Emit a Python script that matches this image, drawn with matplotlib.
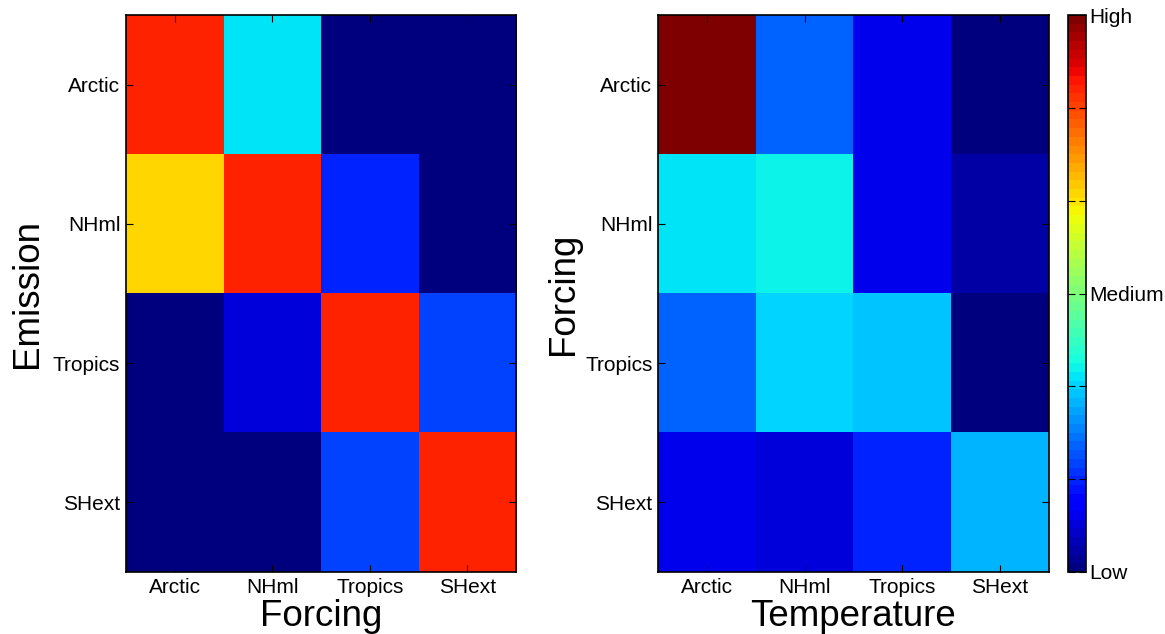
import numpy as np
import matplotlib
matplotlib.use('Agg')
import matplotlib.pyplot as plt

plt.rcParams['font.family'] = ['Liberation Sans', 'DejaVu Sans']

regions = ['Arctic', 'NHml', 'Tropics', 'SHext']

# Emission (rows) -> Forcing (columns)
emission_forcing = [
    [0.87, 0.35, 0.00, 0.00],
    [0.68, 0.87, 0.17, 0.00],
    [0.00, 0.08, 0.87, 0.19],
    [0.00, 0.00, 0.19, 0.86],
]

# Forcing (rows) -> Temperature (columns)
forcing_temperature = [
    [1.00, 0.22, 0.10, 0.01],
    [0.35, 0.37, 0.105, 0.04],
    [0.22, 0.335, 0.315, 0.01],
    [0.095, 0.08, 0.16, 0.30],
]

cbar_ticks = [0, 1/6, 2/6, 3/6, 4/6, 5/6, 1]
cbar_labels = ['Low', '', '', 'Medium', '', '', 'High']

cmap = plt.get_cmap('jet', 64)

fig = plt.figure(figsize=(11.65, 6.34), dpi=100)
ax1 = fig.add_axes([0.108, 0.0978, 0.335, 0.8785])
ax2 = fig.add_axes([0.5648, 0.0978, 0.3356, 0.8785])
cax = fig.add_axes([0.9167, 0.0978, 0.0155, 0.8785])


def heat(ax, data, xlabel, ylabel, ypad):
    im = ax.imshow(np.array(data), cmap=cmap, vmin=0, vmax=1,
                   aspect='auto', interpolation='nearest')
    ax.set_xticks(range(len(regions)))
    ax.set_yticks(range(len(regions)))
    ax.set_xticklabels(regions, fontsize=15)
    ax.set_yticklabels(regions, fontsize=15)
    ax.tick_params(direction='in', length=5, top=True, right=True, pad=4)
    ax.set_xlabel(xlabel, fontsize=26.5, labelpad=1.5)
    ax.set_ylabel(ylabel, fontsize=26.5, labelpad=ypad)
    for s in ax.spines.values():
        s.set_linewidth(1.2)
    return im


im = heat(ax1, emission_forcing, 'Forcing', 'Emission', 6)
heat(ax2, forcing_temperature, 'Temperature', 'Forcing', 3)

cb = fig.colorbar(im, cax=cax, ticks=cbar_ticks)
cb.ax.set_yticklabels(cbar_labels, fontsize=15)
cb.ax.tick_params(direction='in', length=5, left=True, right=True, pad=2)
cb.outline.set_linewidth(1.2)

plt.savefig('out.png', dpi=100)
